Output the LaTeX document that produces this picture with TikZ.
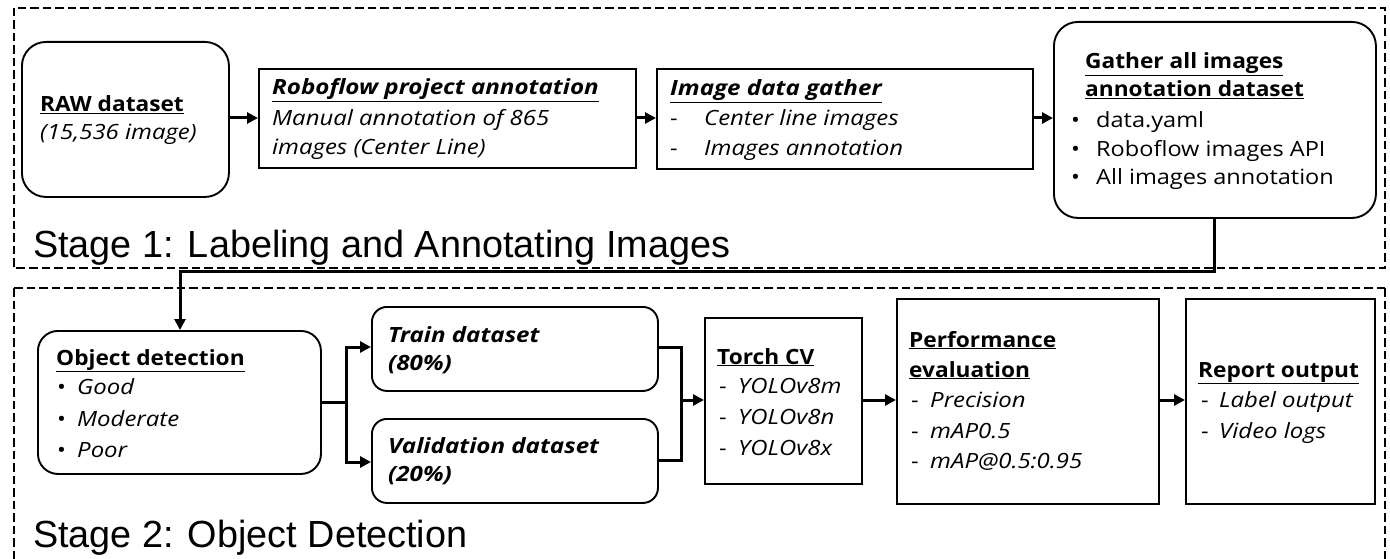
\documentclass[tikz,border=0pt]{standalone}
\usepackage{fontspec}
\setmainfont{Open Sans}[FakeStretch=1.12,
  BoldFeatures={FakeStretch=1.08},
  ItalicFeatures={FakeStretch=1.14},
  BoldItalicFeatures={FakeStretch=1.15}]
\newfontfamily\stagefont{Liberation Sans}
\usetikzlibrary{arrows.meta}
\tikzset{
  sbox/.style={draw, line width=1.9pt, inner sep=0pt, anchor=north west},
  rbox/.style={sbox, rounded corners=24pt},
  frame/.style={draw, line width=2.8pt, dash pattern=on 8.5pt off 4pt},
  conn/.style={line width=3pt, -{Triangle[length=11pt,width=11pt]}},
  plain/.style={line width=3pt},
  txt/.style={anchor=base west, inner sep=0pt, font=\fontsize{21}{24}\selectfont},
  ttl/.style={txt, font=\fontsize{21}{24}\selectfont\bfseries},
  ttli/.style={txt, font=\fontsize{21}{24}\selectfont\bfseries\itshape},
  itm/.style={txt, font=\fontsize{21}{24}\selectfont\itshape},
  stage/.style={anchor=base west, inner sep=0pt, font=\fontsize{37.8}{40}\stagefont},
}
\begin{document}
\begin{tikzpicture}[x=1pt,y=-1pt]
\useasboundingbox (0,0) rectangle (1390,559);
\fill[white] (0,0) rectangle (1390,559);

% frames
\draw[frame] (14,8) rectangle (1385,268);
\draw[frame] (14,288) -- (1385,288);
\draw[frame] (14,288) -- (14,565);
\draw[frame] (1385,288) -- (1385,565);

\node[stage] (s1) at (33,257) {Stage 1: Labeling and Annotating Images};
\node[stage] (s2) at (33,547) {Stage 2: Object Detection};

% ---- Stage 1 boxes
\node[rbox, minimum width=207pt, minimum height=155pt] (raw) at (21,41) {};
\node[sbox, minimum width=377pt, minimum height=99pt] (robo) at (258,68) {};
\node[sbox, minimum width=376pt, minimum height=100pt] (gath) at (656,68) {};
\node[rbox, minimum width=322pt, minimum height=196pt] (all) at (1053,21) {};

\node[ttl] (raw1) at (40,112) {\underline{RAW dataset}};
\node[itm] (raw2) at (40,140) {(15,536 image)};

\node[ttli] (robo1) at (272,95) {\underline{Roboflow project annotation}};
\node[itm] (robo2) at (272,126) {Manual annotation of 865};
\node[itm] (robo3) at (272,155) {images (Center Line)};

\node[ttli] (gath1) at (670,96) {\underline{Image data gather}};
\node[txt] (gathd1) at (670,126) {-};
\node[itm] (gath2) at (704,126) {Center line images};
\node[txt] (gathd2) at (670,156) {-};
\node[itm] (gath3) at (704,156) {Images annotation};

\node[ttl] (all1) at (1085,69) {\underline{Gather all images}};
\node[ttl] (all2) at (1085,97) {\underline{annotation dataset}};
\node[txt] (allb1) at (1071,128) {•};
\node[txt] (all3) at (1096,128) {data.yaml};
\node[txt] (allb2) at (1071,157) {•};
\node[txt] (all4) at (1096,157) {Roboflow images API};
\node[txt] (allb3) at (1071,185) {•};
\node[txt] (all5) at (1096,185) {All images annotation};

\draw[conn] (raw.east |- 0,118) -- (robo.west |- 0,118);
\draw[conn] (robo.east |- 0,118) -- (gath.west |- 0,118);
\draw[conn] (gath.east |- 0,118) -- (all.west |- 0,118);

% ---- Stage 2 boxes
\node[rbox, rounded corners=20pt, minimum width=283pt, minimum height=143pt] (obj) at (37,330) {};
\node[rbox, rounded corners=15pt, minimum width=286pt, minimum height=84pt] (train) at (371,306) {};
\node[rbox, rounded corners=15pt, minimum width=286pt, minimum height=84pt] (val) at (371,418) {};
\node[sbox, minimum width=157pt, minimum height=166pt] (torch) at (704,317) {};
\node[sbox, minimum width=262pt, minimum height=205pt] (perf) at (896,298) {};
\node[sbox, minimum width=189pt, minimum height=205pt] (rep) at (1185,298) {};

\node[ttl] (obj1) at (56,365) {\underline{Object detection}};
\node[txt] (objb1) at (57,394) {•};
\node[itm] (obj2) at (77,394) {Good};
\node[txt] (objb2) at (57,426) {•};
\node[itm] (obj3) at (77,426) {Moderate};
\node[txt] (objb3) at (57,457) {•};
\node[itm] (obj4) at (77,457) {Poor};

\node[ttli] (train1) at (388,342) {Train dataset};
\node[ttli] (train2) at (388,370) {(80\%)};
\node[ttli] (val1) at (388,453) {Validation dataset};
\node[ttli] (val2) at (388,481) {(20\%)};

\node[ttl] (torch1) at (717,364) {\underline{Torch CV}};
\node[txt] (torchd1) at (719,393) {-};
\node[itm] (torch2) at (738,393) {YOLOv8m};
\node[txt] (torchd2) at (719,424) {-};
\node[itm] (torch3) at (738,424) {YOLOv8n};
\node[txt] (torchd3) at (719,455) {-};
\node[itm] (torch4) at (738,455) {YOLOv8x};

\node[ttl] (perf1) at (909,347) {\underline{Performance}};
\node[ttl] (perf2) at (909,377) {\underline{evaluation}};
\node[txt] (perfd1) at (911,407) {-};
\node[itm] (perf3) at (930,407) {Precision};
\node[txt] (perfd2) at (911,438) {-};
\node[itm] (perf4) at (930,438) {mAP0.5};
\node[txt] (perfd3) at (911,468) {-};
\node[itm] (perf5) at (930,468) {mAP@0.5:0.95};

\node[ttl] (rep1) at (1198,377) {\underline{Report output}};
\node[txt] (repd1) at (1201,407) {-};
\node[itm] (rep2) at (1219,407) {Label output};
\node[txt] (repd2) at (1201,438) {-};
\node[itm] (rep3) at (1219,438) {Video logs};

% ---- connectors
\coordinate (c1) at (1214,271);
\coordinate (c2) at (180,271);
\draw[conn] (all.south -| c1) -- (c1) -- (c2) -- (obj.north -| c2);

\coordinate (f0) at (346,402);
\draw[plain] (obj.east |- f0) -- (f0);
\draw[conn] (f0) -- (346,347) -- (train.west |- 0,347);
\draw[conn] (f0) -- (346,462) -- (val.west |- 0,462);

\coordinate (m0) at (681,400);
\draw[plain] (train.east |- 0,347) -- (681,347) -- (681,460) -- (val.east |- 0,460);
\draw[conn] (m0) -- (torch.west |- m0);
\draw[conn] (torch.east |- m0) -- (perf.west |- m0);
\draw[conn] (perf.east |- m0) -- (rep.west |- m0);
\end{tikzpicture}
\end{document}
